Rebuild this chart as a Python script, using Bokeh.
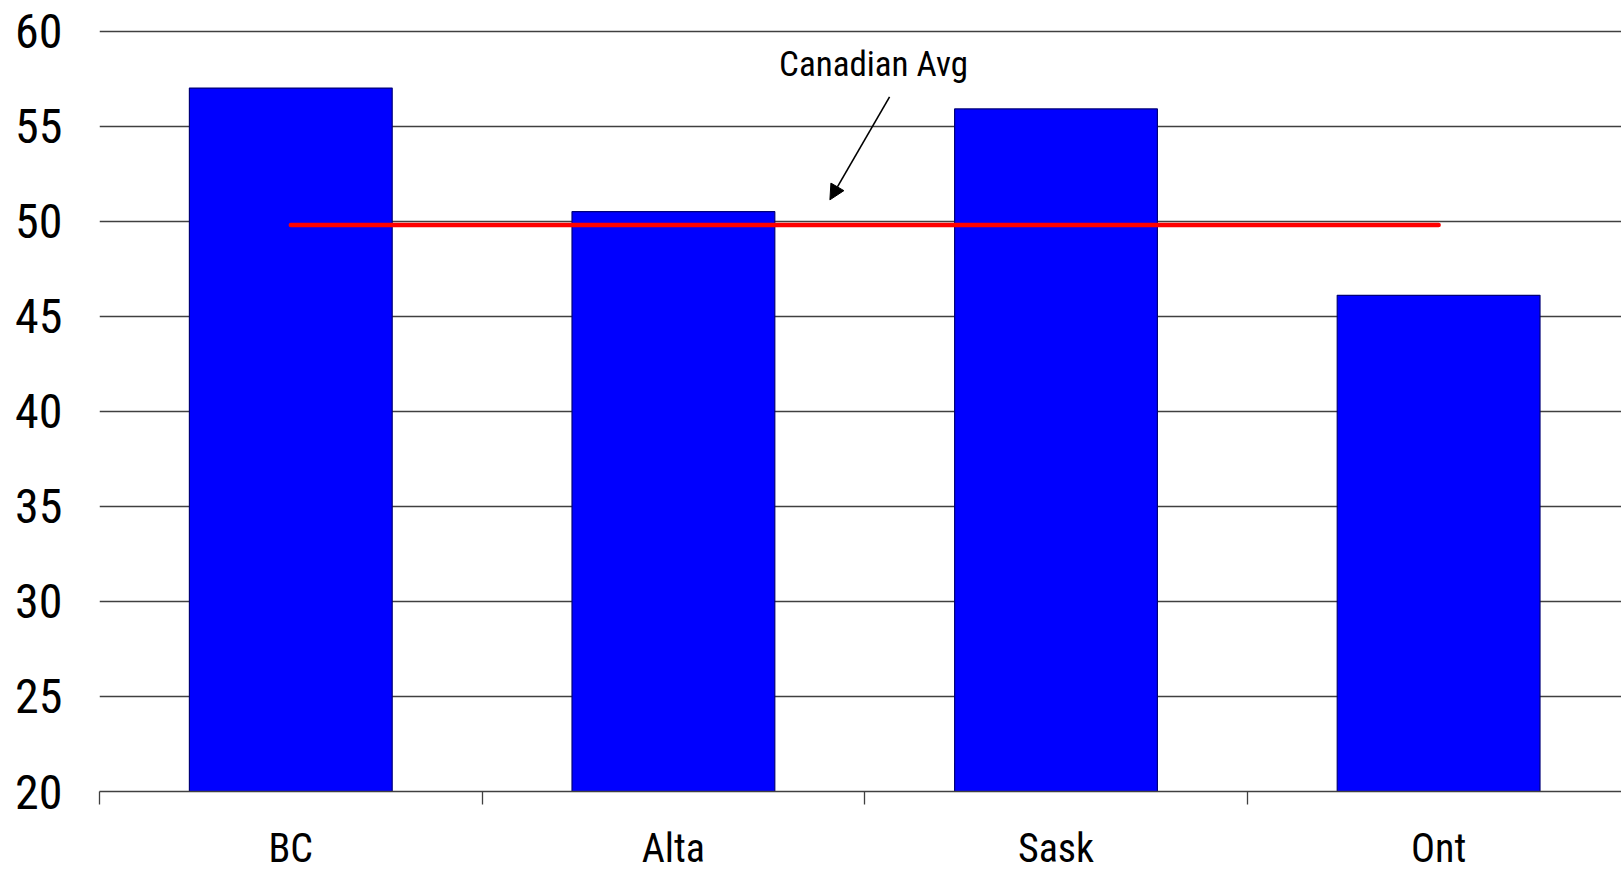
from bokeh.plotting import figure
from bokeh.models import (Range1d, FixedTicker, ColumnDataSource, Arrow, NormalHead,
                          Label)
from bokeh.embed import file_html
from bokeh.resources import INLINE

provinces = ["BC", "Alta", "Sask", "Ont"]
shares = [57.0, 50.5, 55.9, 46.1]
canadian_avg = 49.8
y_ticks = [20, 25, 30, 35, 40, 45, 50, 55, 60]

FONT = "'Liberation Sans Narrow', 'Arial Narrow', 'Roboto Condensed', sans-serif"

centers = [i + 0.5 for i in range(len(provinces))]
boundaries = [float(i) for i in range(len(provinces) + 1)]

p = figure(width=1621, height=874, output_backend="svg", toolbar_location=None,
           x_range=Range1d(0, 3.978), y_range=Range1d(20, 60.08))
p.min_border_left = 99
p.min_border_right = 0
p.min_border_top = 29
p.min_border_bottom = 80
p.outline_line_color = None
p.background_fill_color = "white"
p.border_fill_color = "white"

src = ColumnDataSource(dict(x=centers, top=shares))
p.vbar(x="x", top="top", bottom=20, width=0.53, source=src,
       fill_color="#0000FF", line_color="#00007A", line_width=1.2)

# Canadian average line across the provinces
p.line(x=[centers[0], centers[-1]], y=[canadian_avg, canadian_avg],
       line_color="#FF0000", line_width=4.5, line_cap="round")

# annotation with arrow pointing at the average line
p.add_layout(Arrow(end=NormalHead(size=15, fill_color="black", line_color="black", line_width=1),
                   x_start=2.065, y_start=56.54, x_end=1.909, y_end=51.12,
                   line_color="black", line_width=1.6))
p.add_layout(Label(x=2.023, y=57.15, text="Canadian Avg", text_align="center",
                   text_baseline="bottom", text_font=FONT,
                   text_font_size="35px", text_color="black"))

# axes
p.xgrid.grid_line_color = None
p.ygrid.grid_line_color = "#404040"
p.ygrid.grid_line_width = 1.3
p.ygrid.ticker = FixedTicker(ticks=y_ticks)

p.yaxis.ticker = FixedTicker(ticks=y_ticks)
p.yaxis.axis_line_color = None
p.yaxis.major_tick_line_color = None
p.yaxis.minor_tick_line_color = None
p.yaxis.major_label_standoff = 31
p.yaxis.major_label_text_font = FONT
p.yaxis.major_label_text_font_size = "48px"
p.yaxis.major_label_text_color = "black"

p.xaxis.ticker = FixedTicker(ticks=centers, minor_ticks=boundaries)
p.xaxis.major_label_overrides = {c: name for c, name in zip(centers, provinces)}
p.xaxis.axis_line_color = "#404040"
p.xaxis.axis_line_width = 1.3
p.xaxis.major_tick_line_color = None
p.xaxis.minor_tick_line_color = "#404040"
p.xaxis.minor_tick_line_width = 1.3
p.xaxis.minor_tick_in = 0
p.xaxis.minor_tick_out = 13
p.xaxis.major_label_standoff = 20
p.xaxis.major_label_text_font = FONT
p.xaxis.major_label_text_font_size = "40px"
p.xaxis.major_label_text_color = "black"

open("out.html", "w").write(file_html(p, INLINE))
